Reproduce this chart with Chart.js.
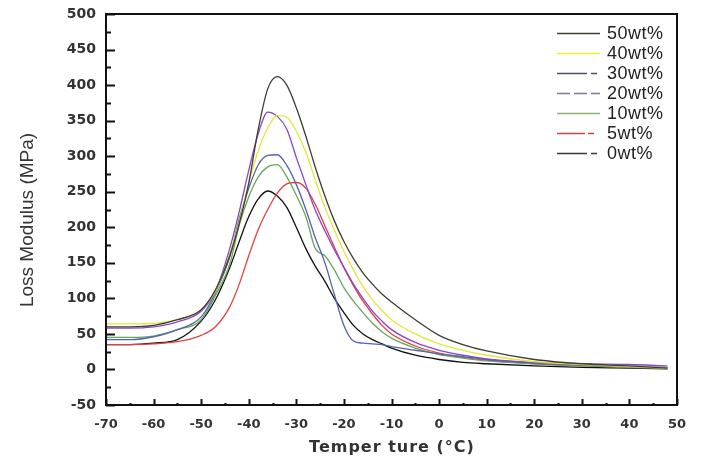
<!DOCTYPE html>
<html>
<head>
<meta charset="utf-8">
<script src="https://cdn.jsdelivr.net/npm/chart.js@4/dist/chart.umd.min.js"></script>
<style>
  html, body { margin: 0; padding: 0; background: #fff; }
  #wrap { width: 701px; height: 464px; }
</style>
</head>
<body>
<div id="wrap"><canvas id="c" width="701" height="464"></canvas></div>
<script>
// temperature (°C) shared by all curves
const temps = [-70, -65, -60, -55, -50, -47, -44, -42, -40, -38, -36, -34, -32, -30, -28, -26,
  -24, -22, -20, -18, -16, -14, -12, -10, -5, 0, 5, 10, 20, 30, 40, 48];

// loss modulus (MPa) per filler content
const wt50 = [60, 60, 62, 70, 84, 112, 160, 205, 262, 338, 395, 412, 400, 368, 328, 284,
  244, 209, 180, 156, 136, 120, 106, 95, 70, 48, 35, 26, 14, 8, 5, 2];
const wt40 = [64, 64, 65, 70, 84, 110, 162, 208, 262, 308, 340, 357, 355, 335, 306, 266,
  228, 196, 166, 140, 117, 98, 83, 70, 50, 36, 27, 20, 11, 7, 4, 2];
const wt30 = [58, 58, 60, 67, 82, 110, 170, 222, 280, 332, 362, 356, 338, 298, 260, 224,
  195, 168, 144, 120, 100, 82, 68, 56, 38, 27, 20, 15, 10, 8, 7, 5];
const wt20 = [42, 42, 46, 56, 74, 108, 158, 212, 255, 288, 301, 302, 287, 260, 225, 185,
  150, 105, 62, 40, 37, 36, 35, 32, 27, 22, 18, 14, 9, 6, 4, 3];
const wt10 = [45, 45, 47, 56, 70, 104, 148, 203, 243, 271, 285, 288, 271, 245, 215, 170,
  160, 140, 115, 96, 80, 65, 53, 44, 30, 21, 16, 12, 8, 5, 3, 2];
const wt5 = [35, 35, 36, 39, 48, 60, 88, 120, 160, 197, 225, 248, 261, 263, 255, 232,
  202, 172, 143, 118, 96, 78, 62, 50, 33, 23, 17, 13, 8, 5, 3, 2];
const wt0 = [35, 35, 37, 42, 68, 98, 143, 180, 215, 240, 251, 244, 228, 200, 170, 145,
  124, 100, 80, 62, 50, 42, 36, 30, 20, 14, 10, 8, 5, 3, 2, 1];

const seriesLabels = ['50wt%', '40wt%', '30wt%', '20wt%', '10wt%', '5wt%', '0wt%'];
const seriesValues = [wt50, wt40, wt30, wt20, wt10, wt5, wt0];
const lineColors = ['#3e3e34', '#e6e63a', '#8a45c8', '#5563b0', '#66a85a', '#e04040', '#111111'];
const legendColors = ['#3b4030', '#eeee20', '#5a4a6a', '#7a7a9a', '#8cb478', '#cc4444', '#3a3a3a'];
const legendDash = [[], [], [30, 4, 6], [13, 4], [], [28, 3, 6], [30, 4, 6]];

const xMin = -70, xMax = 50, yMin = -50, yMax = 500;

const datasets = seriesValues.map((vals, i) => ({
  label: seriesLabels[i],
  data: temps.map((t, j) => ({ x: t, y: vals[j] })),
  borderColor: lineColors[i],
  borderWidth: 1.3,
  pointRadius: 0,
  fill: false,
  cubicInterpolationMode: 'monotone',
}));

const framePlugin = {
  id: 'frame',
  beforeDraw(chart) {
    const ctx = chart.ctx;
    ctx.save();
    ctx.fillStyle = '#fff';
    ctx.fillRect(0, 0, chart.width, chart.height);
    ctx.restore();
  },
  afterDraw(chart) {
    const { ctx, chartArea: a, scales } = chart;
    ctx.save();
    ctx.strokeStyle = '#111';
    ctx.lineWidth = 2;
    ctx.strokeRect(a.left, a.top, a.right - a.left, a.bottom - a.top);

    // inward ticks
    for (let v = yMin; v <= yMax; v += 25) {
      const y = Math.round(scales.y.getPixelForValue(v)) + 0.5;
      const len = v % 50 === 0 ? 9 : 5;
      ctx.beginPath();
      ctx.moveTo(a.left, y);
      ctx.lineTo(a.left + len, y);
      ctx.stroke();
    }
    for (let t = xMin; t <= xMax; t += 5) {
      const x = Math.round(scales.x.getPixelForValue(t)) + 0.5;
      const len = t % 10 === 0 ? 6 : 2;
      ctx.beginPath();
      ctx.moveTo(x, a.bottom);
      ctx.lineTo(x, a.bottom - len);
      ctx.stroke();
    }

    // axis titles
    ctx.fillStyle = '#333';
    ctx.textAlign = 'center';
    ctx.textBaseline = 'middle';
    ctx.letterSpacing = '1px';
    ctx.font = 'bold 16px "DejaVu Sans"';
    ctx.fillText('Temper ture (°C)', 392, 448);
    ctx.letterSpacing = '0px';
    ctx.save();
    ctx.translate(28, 220);
    ctx.rotate(-Math.PI / 2);
    ctx.font = '19px "Liberation Sans"';
    ctx.fillText('Loss Modulus (MPa)', 0, 0);
    ctx.restore();

    // legend
    ctx.textAlign = 'left';
    ctx.letterSpacing = '0.5px';
    ctx.font = '18px "Liberation Sans"';
    seriesLabels.forEach((lab, i) => {
      const y = 33 + i * 20;
      ctx.strokeStyle = legendColors[i];
      ctx.lineWidth = 1.3;
      ctx.setLineDash(legendDash[i]);
      ctx.beginPath();
      ctx.moveTo(557, y + 0.5);
      ctx.lineTo(600, y + 0.5);
      ctx.stroke();
      ctx.setLineDash([]);
      ctx.fillStyle = '#222';
      ctx.fillText(lab, 607, y + 1);
    });
    ctx.restore();
  }
};

new Chart(document.getElementById('c'), {
  type: 'line',
  data: { datasets },
  options: {
    responsive: false,
    animation: false,
    layout: { padding: { left: 0, right: 24, top: 14, bottom: 0 } },
    plugins: { legend: { display: false }, tooltip: { enabled: false } },
    scales: {
      x: {
        type: 'linear',
        min: xMin,
        max: xMax,
        grid: { display: false },
        border: { display: false },
        ticks: { stepSize: 10, color: '#333', padding: 4, maxRotation: 0,
          font: { family: 'DejaVu Sans', size: 13, weight: 'bold' } },
        afterFit(scale) { scale.height = 59; },
      },
      y: {
        type: 'linear',
        min: yMin,
        max: yMax,
        grid: { display: false },
        border: { display: false },
        ticks: { stepSize: 50, color: '#333', padding: 2,
          font: { family: 'DejaVu Sans', size: 14, weight: 'bold' } },
        afterFit(scale) { scale.width = 106; },
      },
    },
  },
  plugins: [framePlugin],
});
</script>
</body>
</html>
